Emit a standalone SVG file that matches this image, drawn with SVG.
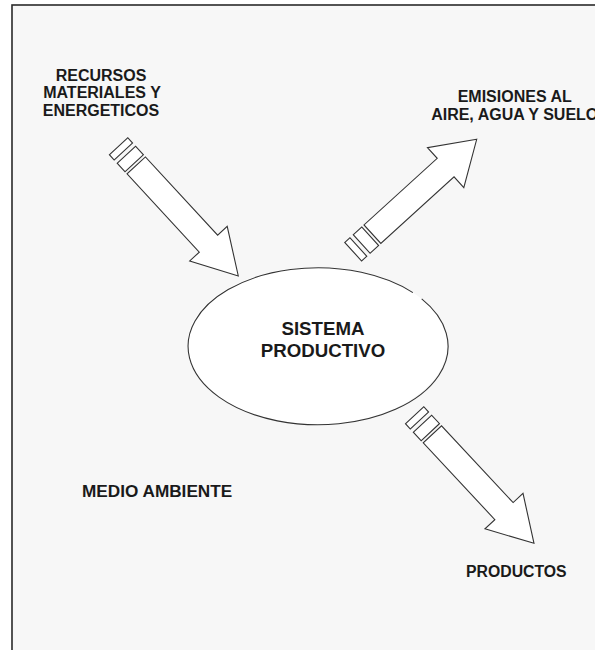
<svg xmlns="http://www.w3.org/2000/svg" width="595" height="650" viewBox="0 0 595 650">
<style>
.lbl{font-family:"Liberation Sans",Arial,sans-serif;font-weight:bold;fill:#1a1a1a}
.arr{fill:#fff;stroke:#333;stroke-width:1.1;stroke-linejoin:miter}
</style>
<defs>
<g id="bands">
<rect x="-11.5" y="-12.5" width="11.5" height="25"/>
<rect x="-23" y="-12.5" width="7" height="25"/>
</g>
</defs>
<rect x="0" y="0" width="595" height="650" fill="#fff"/>
<rect id="frame" x="12" y="5" width="600" height="660" fill="#f7f7f7" stroke="#2a2a2a" stroke-width="1.6"/>

<g id="connectors" class="arr">
<g id="arrow-recursos" transform="translate(238.3,276) rotate(47.3)">
<path d="M0,0 L-44,-25.5 L-44,-12.5 L-150.5,-12.5 L-150.5,12.5 L-44,12.5 L-44,25.5 Z"/>
<use href="#bands" transform="translate(-153.5,0)"/>
</g>
<g id="arrow-emisiones" transform="translate(476.7,139.3) rotate(-42.3)">
<path d="M0,0 L-42,-27 L-42,-12.5 L-141,-12.5 L-141,12.5 L-42,12.5 L-42,27 Z"/>
<use href="#bands" transform="translate(-144,0)"/>
</g>
<g id="arrow-productos" transform="translate(534,543.3) rotate(47)">
<path d="M0,0 L-44,-26 L-44,-12.5 L-149,-12.5 L-149,12.5 L-44,12.5 L-44,26 Z"/>
<use href="#bands" transform="translate(-152,0)"/>
</g>
</g>

<g id="sistema-productivo">
<ellipse cx="317" cy="345.5" rx="130" ry="78.5" fill="#fff"/>
<path d="M421.7,298.9 A130,78.5 0 1 1 412.9,292.6" fill="none" stroke="#333" stroke-width="1.1"/>
<text class="lbl" font-size="18.7" text-anchor="middle" x="323" y="335">SISTEMA</text>
<text class="lbl" font-size="18.7" text-anchor="middle" x="323" y="357.3">PRODUCTIVO</text>
</g>

<g id="recursos">
<text class="lbl" font-size="16" text-anchor="middle" x="101" y="80.5">RECURSOS</text>
<text class="lbl" font-size="16" text-anchor="middle" x="102" y="98">MATERIALES Y</text>
<text class="lbl" font-size="16" text-anchor="middle" x="101" y="115.5">ENERGETICOS</text>
</g>

<g id="emisiones">
<text class="lbl" font-size="16" text-anchor="middle" x="514.7" y="101.7">EMISIONES AL</text>
<text class="lbl" font-size="16" text-anchor="middle" x="514.7" y="120">AIRE, AGUA Y SUELO</text>
</g>

<g id="productos">
<text class="lbl" font-size="15.8" x="466" y="577">PRODUCTOS</text>
</g>

<g id="medio-ambiente">
<text class="lbl" font-size="17.2" x="82" y="497">MEDIO AMBIENTE</text>
</g>
</svg>
